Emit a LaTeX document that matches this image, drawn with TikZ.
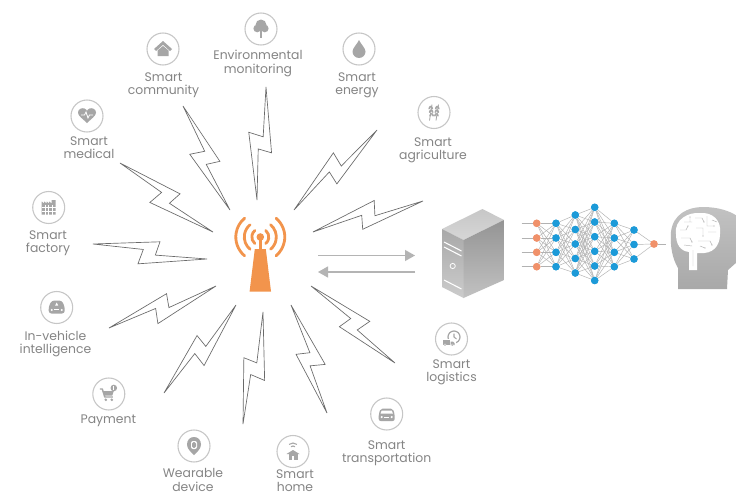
\documentclass[tikz,border=0pt]{standalone}
\usepackage{fontspec}
\setmainfont{Poppins}
\usetikzlibrary{arrows.meta,calc}

\definecolor{textgray}{HTML}{858585}
\definecolor{ringgray}{HTML}{C6C6C6}
\definecolor{glyphgray}{HTML}{A6A6A6}
\definecolor{boltgray}{HTML}{6A6A6A}
\definecolor{arrowgray}{HTML}{B4B4B4}
\definecolor{towerorange}{HTML}{F2944C}
\definecolor{netblue}{HTML}{1C9AD8}
\definecolor{netorange}{HTML}{F0916A}
\definecolor{wiregray}{HTML}{B2B2B2}

% lightning bolt between an outer tip #1 and an inner tip #2;
% corners are placed along the tip-to-tip axis and across it
\newcommand\zap[2]{%
  \draw[boltline] let \p1=(#1), \p2=(#2) in
    (\p1)
    -- ({\x1+0.575*(\x2-\x1)-0.095*(\y2-\y1)}, {\y1+0.575*(\y2-\y1)+0.095*(\x2-\x1)})
    -- ({\x1+0.55*(\x2-\x1)+0.025*(\y2-\y1)}, {\y1+0.55*(\y2-\y1)-0.025*(\x2-\x1)})
    -- (\p2)
    -- ({\x1+0.41*(\x2-\x1)+0.12*(\y2-\y1)}, {\y1+0.41*(\y2-\y1)-0.12*(\x2-\x1)})
    -- ({\x1+0.44*(\x2-\x1)-0.01*(\y2-\y1)}, {\y1+0.44*(\y2-\y1)+0.01*(\x2-\x1)})
    -- cycle;}

\begin{document}
\begin{tikzpicture}[x=0.75pt,y=-0.75pt,
  itemtext/.style={font=\fontsize{9.3}{10}\selectfont, text=textgray, align=center, inner sep=0pt},
  iconring/.style={circle, draw=ringgray, line width=0.8pt, minimum size=24pt, inner sep=0pt},
  glyph/.style={fill=glyphgray, draw=none},
  boltline/.style={draw=boltgray, line width=0.5pt, line join=miter},
  flowarrow/.style={draw=arrowgray, line width=1.1pt, -{Triangle[length=7.5pt,width=8.2pt]}},
  synapse/.style={draw=wiregray, line width=0.35pt},
  neuron/.style={circle, inner sep=0pt, minimum size=5.6pt},
]
\useasboundingbox (0,0) rectangle (736,496);
\fill[white] (0,0) rectangle (736,496);

% ---------- application icons ----------
\node[iconring] (i-community) at (163,49) {};
\node[iconring] (i-env) at (261,29) {};
\node[iconring] (i-energy) at (359,49) {};
\node[iconring] (i-agri) at (434,112.5) {};
\node[iconring] (i-medical) at (87,116) {};
\node[iconring] (i-factory) at (48.7,207.5) {};
\node[iconring] (i-vehicle) at (56.7,307.5) {};
\node[iconring] (i-payment) at (108.8,394) {};
\node[iconring] (i-wearable) at (194,446) {};
\node[iconring] (i-home) at (293,451.5) {};
\node[iconring] (i-transport) at (386.7,414) {};
\node[iconring] (i-logistics) at (451.5,339) {};

% ---------- labels ----------
\node[itemtext] (t-community) at (163.5,85) {Smart\\community};
\node[itemtext] (t-env) at (258,63.5) {Environmental\\monitoring};
\node[itemtext] (t-energy) at (357,85) {Smart\\energy};
\node[itemtext] (t-agri) at (433,150) {Smart\\agriculture};
\node[itemtext] (t-medical) at (89,148) {Smart\\medical};
\node[itemtext] (t-factory) at (48,243) {Smart\\factory};
\node[itemtext] (t-vehicle) at (55.5,344) {In-vehicle\\intelligence};
\node[itemtext] (t-payment) at (108.3,421) {Payment};
\node[itemtext] (t-wearable) at (193,480) {Wearable\\device};
\node[itemtext] (t-home) at (295,481) {Smart\\home};
\node[itemtext] (t-transport) at (386.7,453) {Smart\\transportation};
\node[itemtext] (t-logistics) at (451.5,372) {Smart\\logistics};

% ---------- glyphs ----------
\begin{scope}[shift={(i-community.center)}]
  \fill[glyph] (-9,0) -- (0,-8) -- (9,0) -- (7,2) -- (0,-4.2) -- (-7,2) -- cycle;
  \fill[glyph] (-5.5,1.5) -- (0,-3) -- (5.5,1.5) -- (5.5,7) -- (-5.5,7) -- cycle;
\end{scope}
\begin{scope}[shift={(i-env.center)}]
  \fill[glyph] (0,-4) circle (5.5) (-3.8,-0.5) circle (3.8) (3.8,-0.5) circle (3.8);
  \fill[glyph] (-1.2,1) rectangle (1.2,9);
\end{scope}
\begin{scope}[shift={(i-energy.center)}]
  \fill[glyph] (0,-9) .. controls (1,-6) and (6.5,-1) .. (6.5,2.5)
    arc[start angle=0,end angle=180,radius=6.5]
    .. controls (-6.5,-1) and (-1,-6) .. (0,-9) -- cycle;
\end{scope}
\begin{scope}[shift={(i-agri.center)}]
  % two ears of wheat
  \draw[glyphgray, line width=0.6pt] (-4.5,8) -- (-2,-8) (2,8) -- (4.5,-8);
  \foreach \k in {0,1,2} {
    \fill[glyphgray, rotate around={-30:(-3.9+0.4*\k,-3+3.6*\k)}] (-5.2+0.4*\k,-4.5+3.6*\k) ellipse [x radius=0.9, y radius=2];
    \fill[glyphgray, rotate around={30:(-2.6+0.4*\k,-3+3.6*\k)}] (-1.3+0.4*\k,-4.5+3.6*\k) ellipse [x radius=0.9, y radius=2];
    \fill[glyphgray, rotate around={-30:(2.6-0.4*\k,-3+3.6*\k)}] (1.3-0.4*\k,-4.5+3.6*\k) ellipse [x radius=0.9, y radius=2];
    \fill[glyphgray, rotate around={30:(3.9-0.4*\k,-3+3.6*\k)}] (5.2-0.4*\k,-4.5+3.6*\k) ellipse [x radius=0.9, y radius=2];
  }
\end{scope}
\begin{scope}[shift={(i-medical.center)}]
  \fill[glyph] (0,7) .. controls (-4,3) and (-9,0) .. (-9,-3.5)
    .. controls (-9,-7) and (-5,-8.5) .. (-2.5,-7.5)
    .. controls (-1,-7) and (0,-5.5) .. (0,-5)
    .. controls (0,-5.5) and (1,-7) .. (2.5,-7.5)
    .. controls (5,-8.5) and (9,-7) .. (9,-3.5)
    .. controls (9,0) and (4,3) .. (0,7) -- cycle;
  \draw[white, line width=0.6pt] (-6,-1) -- (-2.5,-1) -- (-1,-4) -- (1,2) -- (2.5,-1) -- (6,-1);
\end{scope}
\begin{scope}[shift={(i-factory.center)}]
  \fill[glyph] (-7,7) -- (-7,-6) -- (-4.5,-4) -- (-4.5,-6) -- (-2,-4) -- (-2,-6) -- (0.5,-4)
    -- (0.5,-6) -- (3,-4) -- (3,-7.5) -- (7,-7.5) -- (7,7) -- cycle;
  \draw[white, line width=0.6pt] (-7,0) -- (7,0) (-7,3.5) -- (7,3.5)
    (-3.5,-3) -- (-3.5,7) (0,-3) -- (0,7) (3.5,-3) -- (3.5,7);
\end{scope}
\begin{scope}[shift={(i-vehicle.center)}]
  \fill[glyph, rounded corners=2pt] (-8,6) -- (-8,-1) -- (-5,-7) -- (5,-7) -- (8,-1) -- (8,6) -- cycle;
  \fill[white] (-1.5,-2) -- (0,-5) -- (1.5,-2) -- cycle;
  \fill[white] (-5,2.5) circle (1.1) (5,2.5) circle (1.1);
  \fill[white] (-2.5,1.2) rectangle (2.5,2.2);
\end{scope}
\begin{scope}[shift={(i-payment.center)}]
  \draw[glyphgray, line width=1.1pt, line join=round] (-9,-5) -- (-6.5,-5) -- (-4,3) -- (4,3);
  \fill[glyph] (-6,-3) -- (5,-3) -- (3.5,1.5) -- (-4.5,1.5) -- cycle;
  \fill[glyph] (-3,5.8) circle (1.4) (3,5.8) circle (1.4);
  \fill[glyph] (5,-6) circle (3.3);
  \fill[white] (4.6,-8) rectangle (5.4,-4);
\end{scope}
\begin{scope}[shift={(i-wearable.center)}]
  \fill[glyph] (0,9) .. controls (-3,6) and (-7,3) .. (-7,-1.5)
    .. controls (-7,-6) and (-4,-9) .. (0,-9)
    .. controls (4,-9) and (7,-6) .. (7,-1.5)
    .. controls (7,3) and (3,6) .. (0,9) -- cycle;
  \fill[white, rounded corners=1.5pt] (-3,-5) rectangle (3,3);
  \fill[glyph, rounded corners=1pt] (-2,-3.8) rectangle (2,1.8);
\end{scope}
\begin{scope}[shift={(i-home.center)}]
  \draw[glyphgray, line width=0.8pt] ([shift={(-130:6)}]0,-2.5) arc[start angle=-130,end angle=-50,radius=6];
  \draw[glyphgray, line width=0.8pt] ([shift={(-130:3)}]0,-2.5) arc[start angle=-130,end angle=-50,radius=3];
  \fill[glyph] (-6.5,2.5) -- (0,-1.5) -- (6.5,2.5) -- cycle;
  \fill[glyph] (-4.5,2.5) rectangle (4.5,8);
  \fill[white] (-1.2,4.5) rectangle (1.2,8);
\end{scope}
\begin{scope}[shift={(i-transport.center)}]
  \fill[glyph, rounded corners=1.5pt] (-8,7) -- (-8,0) -- (-6,-5.5) -- (6,-5.5) -- (8,0) -- (8,7) -- cycle;
  \fill[white] (-5,-3.5) -- (5,-3.5) -- (6.2,-0.5) -- (-6.2,-0.5) -- cycle;
  \fill[white] (-5,3) circle (1.2) (5,3) circle (1.2);
  \fill[white] (-2.5,2.5) rectangle (2.5,3.5);
\end{scope}
\begin{scope}[shift={(i-logistics.center)}]
  \draw[glyphgray, line width=0.9pt] (2.5,-2) circle (6);
  \draw[glyphgray, line width=0.8pt] (2.5,-5.5) -- (2.5,-2) -- (5,0);
  \fill[white] (-10,0) rectangle (4,7.5);
  \fill[glyph] (-9,1) rectangle (-1.5,6);
  \fill[glyph] (-1,2.5) -- (1.5,2.5) -- (3,4.2) -- (3,6) -- (-1,6) -- cycle;
  \fill[white] (-6.5,6) circle (1.3) (0.8,6) circle (1.3);
  \fill[glyph] (-6.5,6) circle (0.9) (0.8,6) circle (0.9);
\end{scope}

% ---------- lightning bolts ----------
\coordinate (o-community) at (183,106);  \coordinate (n-community) at (230,210);
\coordinate (o-env) at (266,87);         \coordinate (n-env) at (257,200);
\coordinate (o-energy) at (377,130);     \coordinate (n-energy) at (294,210);
\coordinate (o-agri) at (423,201);       \coordinate (n-agri) at (313,232);
\coordinate (o-medical) at (120,163);    \coordinate (n-medical) at (213,232);
\coordinate (o-factory) at (93,244);     \coordinate (n-factory) at (207,259);
\coordinate (o-vehicle) at (109,328);    \coordinate (n-vehicle) at (216,286);
\coordinate (o-payment) at (164,393);    \coordinate (n-payment) at (236,305);
\coordinate (o-wearable) at (243,424);   \coordinate (n-wearable) at (263,312);
\coordinate (o-home) at (327,413);       \coordinate (n-home) at (291,305);
\coordinate (o-logistics) at (395,363);  \coordinate (n-logistics) at (311,286);
\foreach \b in {community,env,energy,agri,medical,factory,vehicle,payment,wearable,home,logistics}
  {\zap{o-\b}{n-\b}}

% ---------- radio tower ----------
\coordinate (ant) at (260.3,237);
\fill[towerorange] (254.8,249) -- (265.8,249) -- (271,291.5) -- (249.6,291.5) -- cycle;
\fill[towerorange] (258.9,238) rectangle (261.7,249.5);
\fill[towerorange] (ant) circle (3.8);
\foreach \r in {8.5,16,24.5} {
  \draw[towerorange, line width=2.1pt, line cap=round]
    ([shift={(-50:\r)}]ant) arc[start angle=-50,end angle=50,radius=\r];
  \draw[towerorange, line width=2.1pt, line cap=round]
    ([shift={(130:\r)}]ant) arc[start angle=130,end angle=230,radius=\r];
}

% ---------- uplink / downlink arrows ----------
\coordinate (up-s) at (318,255.5);  \coordinate (up-e) at (415,255.5);
\coordinate (dn-s) at (415,272);    \coordinate (dn-e) at (318,272);
\draw[flowarrow] (up-s) -- (up-e);
\draw[flowarrow] (dn-s) -- (dn-e);

% ---------- server ----------
\shade[top color=white!78!black, bottom color=white!84!black]
  (442,229) -- (482.5,209) -- (504,220) -- (463.5,240) -- cycle;
\shade[top color=white!66!black, bottom color=white!80!black]
  (442,229) -- (463.5,240) -- (463.5,298) -- (442,287) -- cycle;
\shade[top color=white!58!black, bottom color=white!76!black]
  (463.5,240) -- (504,220) -- (504,280) -- (463.5,298) -- cycle;
\draw[white, line width=0.8pt] (444,242) -- (461.5,251) (444,247) -- (461.5,256) (444,280) -- (461.5,289);
\draw[white, line width=0.6pt] (452.7,266) circle (2.6);

% ---------- neural network ----------
\foreach \y [count=\i] in {223.3,238,252.3,266.7}
  \node[neuron, fill=netorange] (a\i) at (536.7,\y) {};
\foreach \y [count=\i] in {223.3,238,252.3,266.7}
  \node[neuron, fill=netblue] (b\i) at (556,\y) {};
\foreach \y [count=\i] in {215,229.5,244,258.5,273}
  \node[neuron, fill=netblue] (c\i) at (575.3,\y) {};
\foreach \y [count=\i] in {207.3,222,236.7,251.3,266,280.5}
  \node[neuron, fill=netblue] (d\i) at (594.7,\y) {};
\foreach \y [count=\i] in {223.3,238,252.3,266.7}
  \node[neuron, fill=netblue] (e\i) at (614.3,\y) {};
\foreach \y [count=\i] in {230,244.5,259}
  \node[neuron, fill=netblue] (f\i) at (634,\y) {};
\node[neuron, fill=netorange] (g1) at (654,244) {};
\foreach \i in {1,...,4} \foreach \j in {1,...,4} \draw[synapse] (a\i) -- (b\j);
\foreach \i in {1,...,4} \foreach \j in {1,...,5} \draw[synapse] (b\i) -- (c\j);
\foreach \i in {1,...,5} \foreach \j in {1,...,6} \draw[synapse] (c\i) -- (d\j);
\foreach \i in {1,...,6} \foreach \j in {1,...,4} \draw[synapse] (d\i) -- (e\j);
\foreach \i in {1,...,4} \foreach \j in {1,...,3} \draw[synapse] (e\i) -- (f\j);
\foreach \i in {1,...,3} \draw[synapse] (f\i) -- (g1);
\foreach \i/\y in {1/223.3,2/238,3/252.3,4/266.7} {
  \coordinate (in\i) at (521.7,\y);
  \draw[synapse, line width=0.6pt] (in\i) -- (a\i);
}
\coordinate (out) at (666,244);
\draw[synapse, line width=0.6pt] (g1) -- (out);
% neurons drawn again above the wiring
\foreach \i in {1,...,4} \fill[netorange] (a\i) circle (3.7);
\foreach \i in {1,...,4} \fill[netblue] (b\i) circle (3.7);
\foreach \i in {1,...,5} \fill[netblue] (c\i) circle (3.7);
\foreach \i in {1,...,6} \fill[netblue] (d\i) circle (3.7);
\foreach \i in {1,...,4} \fill[netblue] (e\i) circle (3.7);
\foreach \i in {1,...,3} \fill[netblue] (f\i) circle (3.7);
\fill[netorange] (g1) circle (3.7);

% ---------- head with circuit brain ----------
\shade[top color=white!76!black, bottom color=white!66!black]
  (678,289) -- (678,268) .. controls (672,258) and (670,245) .. (671,232)
  .. controls (673,214) and (688,207) .. (703,207)
  .. controls (718,207) and (730,211) .. (737,216)
  -- (737,262) -- (728,270) -- (727,289) -- cycle;
\fill[white] (676,234) .. controls (674,219) and (689,212) .. (700,213)
  .. controls (712,212) and (722,220) .. (720,234)
  .. controls (720,247) and (712,254) .. (700,253)
  -- (697,253) -- (697,270) -- (689,270) -- (689,252)
  .. controls (680,251) and (676,244) .. (676,234) -- cycle;
\draw[white!72!black, line width=0.35pt]
  (680,230) -- (686,230) -- (688,226) (684,222) -- (692,222) (690,217) -- (690,222)
  (695,218) -- (702,218) -- (704,222) (707,216) -- (707,226) -- (714,226)
  (681,238) -- (690,238) -- (692,242) (696,228) -- (703,228) -- (703,236)
  (708,232) -- (716,232) (698,241) -- (710,241) -- (712,245) (684,245) -- (692,246)
  (693,250) -- (693,266) (700,246) -- (705,248) (712,220) -- (717,222);
\foreach \p in {(688,226),(692,242),(704,222),(714,226),(703,236),(712,245),(705,248),(690,217)}
  \fill[white!70!black] \p circle (0.7);
\end{tikzpicture}
\end{document}
